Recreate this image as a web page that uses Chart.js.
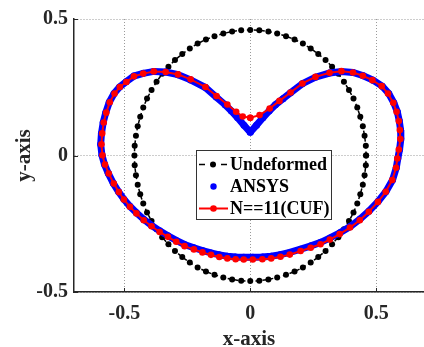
<!DOCTYPE html>
<html>
<head>
<meta charset="utf-8">
<script src="https://cdn.jsdelivr.net/npm/chart.js@4"></script>
<style>
  html, body { margin: 0; padding: 0; background: #fff; }
  canvas { display: block; }
</style>
</head>
<body>
<canvas id="shapeChart" width="424" height="347"></canvas>
<script>
// Undeformed ring (nodes every 4.5 deg, r = 0.46)
const circleX = [0.460, 0.459, 0.454, 0.447, 0.437, 0.425, 0.410, 0.392, 0.372, 0.350, 0.325, 0.299, 0.270, 0.240, 0.209, 0.176, 0.142, 0.107, 0.072, 0.036, 0.000,
  -0.036, -0.072, -0.107, -0.142, -0.176, -0.209, -0.240, -0.270, -0.299, -0.325, -0.350, -0.372, -0.392, -0.410, -0.425, -0.437, -0.447, -0.454, -0.459, -0.460,
  -0.459, -0.454, -0.447, -0.437, -0.425, -0.410, -0.392, -0.372, -0.350, -0.325, -0.299, -0.270, -0.240, -0.209, -0.176, -0.142, -0.107, -0.072, -0.036, 0.000,
  0.036, 0.072, 0.107, 0.142, 0.176, 0.209, 0.240, 0.270, 0.299, 0.325, 0.350, 0.372, 0.392, 0.410, 0.425, 0.437, 0.447, 0.454, 0.459, 0.460];
const circleY = [0.000, 0.036, 0.072, 0.107, 0.142, 0.176, 0.209, 0.240, 0.270, 0.299, 0.325, 0.350, 0.372, 0.392, 0.410, 0.425, 0.437, 0.447, 0.454, 0.459, 0.460,
  0.459, 0.454, 0.447, 0.437, 0.425, 0.410, 0.392, 0.372, 0.350, 0.325, 0.299, 0.270, 0.240, 0.209, 0.176, 0.142, 0.107, 0.072, 0.036, 0.000,
  -0.036, -0.072, -0.107, -0.142, -0.176, -0.209, -0.240, -0.270, -0.299, -0.325, -0.350, -0.372, -0.392, -0.410, -0.425, -0.437, -0.447, -0.454, -0.459, -0.460,
  -0.459, -0.454, -0.447, -0.437, -0.425, -0.410, -0.392, -0.372, -0.350, -0.325, -0.299, -0.270, -0.240, -0.209, -0.176, -0.142, -0.107, -0.072, -0.036, 0.000];

// ANSYS deformed shape
const ansysX = [0.000, 0.025, 0.050, 0.075, 0.100, 0.130, 0.160, 0.207, 0.259, 0.315, 0.362, 0.408, 0.449, 0.487, 0.524, 0.550, 0.570, 0.584, 0.592, 0.597,
  0.598, 0.593, 0.586, 0.580, 0.565, 0.539, 0.508, 0.472, 0.436, 0.397, 0.356, 0.317, 0.280, 0.241, 0.200, 0.157, 0.120, 0.083, 0.048, 0.010,
  -0.026, -0.058, -0.091, -0.123, -0.156, -0.190, -0.224, -0.261, -0.294, -0.327, -0.360, -0.392, -0.423, -0.452, -0.478, -0.502, -0.523, -0.544, -0.564, -0.579,
  -0.589, -0.594, -0.591, -0.584, -0.574, -0.560, -0.541, -0.519, -0.493, -0.462, -0.425, -0.383, -0.336, -0.287, -0.237, -0.178, -0.135, -0.100, -0.075, -0.050, -0.025, 0.000];
const ansysY = [0.085, 0.111, 0.138, 0.163, 0.186, 0.208, 0.230, 0.263, 0.287, 0.302, 0.308, 0.304, 0.292, 0.276, 0.254, 0.227, 0.193, 0.160, 0.126, 0.093,
  0.060, 0.022, -0.011, -0.045, -0.090, -0.132, -0.168, -0.203, -0.233, -0.260, -0.283, -0.302, -0.318, -0.331, -0.343, -0.355, -0.363, -0.369, -0.372, -0.373,
  -0.373, -0.372, -0.369, -0.364, -0.357, -0.348, -0.338, -0.326, -0.311, -0.294, -0.276, -0.256, -0.234, -0.210, -0.186, -0.160, -0.133, -0.102, -0.065, -0.032,
  0.001, 0.041, 0.081, 0.121, 0.157, 0.195, 0.227, 0.251, 0.270, 0.291, 0.301, 0.308, 0.306, 0.296, 0.277, 0.249, 0.214, 0.186, 0.163, 0.138, 0.111, 0.085];

// CUF (N=11) deformed shape
const cufX = [0.000, 0.037, 0.077, 0.116, 0.160, 0.207, 0.259, 0.315, 0.362, 0.408, 0.447, 0.485, 0.522, 0.547, 0.568, 0.581, 0.590, 0.594, 0.596, 0.590,
  0.584, 0.579, 0.564, 0.538, 0.507, 0.471, 0.435, 0.396, 0.355, 0.316, 0.279, 0.240, 0.200, 0.157, 0.120, 0.083, 0.048, 0.010,
  -0.026, -0.058, -0.091, -0.123, -0.156, -0.190, -0.224, -0.261, -0.294, -0.327, -0.360, -0.392, -0.423, -0.452, -0.478, -0.502, -0.522, -0.542, -0.562, -0.577,
  -0.587, -0.591, -0.588, -0.582, -0.572, -0.558, -0.539, -0.518, -0.492, -0.462, -0.425, -0.383, -0.336, -0.287, -0.237, -0.178, -0.134, -0.091, -0.056, -0.030, 0.000];
const cufY = [0.138, 0.148, 0.172, 0.200, 0.231, 0.264, 0.288, 0.303, 0.309, 0.304, 0.292, 0.276, 0.254, 0.227, 0.193, 0.160, 0.126, 0.093, 0.060, 0.022,
  -0.011, -0.045, -0.090, -0.133, -0.170, -0.206, -0.237, -0.264, -0.288, -0.308, -0.325, -0.338, -0.350, -0.363, -0.371, -0.377, -0.380, -0.381,
  -0.381, -0.380, -0.377, -0.372, -0.364, -0.355, -0.344, -0.332, -0.316, -0.298, -0.280, -0.259, -0.237, -0.212, -0.188, -0.161, -0.134, -0.103, -0.066, -0.033,
  0.001, 0.041, 0.081, 0.121, 0.157, 0.195, 0.227, 0.251, 0.269, 0.290, 0.300, 0.308, 0.306, 0.297, 0.279, 0.251, 0.218, 0.187, 0.160, 0.143, 0.138];

const xTicks = [-0.5, 0, 0.5];
const yTicks = [-0.5, 0, 0.5];
const xTickLabels = ['-0.5', '0', '0.5'];
const yTickLabels = ['-0.5', '0', '0.5'];
const seriesNames = ['Undeformed', 'ANSYS', 'N==11(CUF)'];

const SERIF = '"Liberation Serif", "Times New Roman", serif';
const TEXT = '#262626';
const tickFont = { family: SERIF, size: 20, weight: 'bold' };
const titleFont = { family: SERIF, size: 21, weight: 'bold' };

const toPoints = (xs, ys) => xs.map((x, i) => ({ x: x, y: ys[i] }));

// small inward tick marks like matlab
const innerTicks = {
    id: 'innerTicks',
    afterDatasetsDraw(chart) {
        const { ctx, chartArea, scales } = chart;
        ctx.save();
        ctx.strokeStyle = TEXT;
        ctx.lineWidth = 1;
        ctx.beginPath();
        xTicks.forEach(v => {
            const px = Math.round(scales.x.getPixelForValue(v)) + 0.5;
            ctx.moveTo(px, chartArea.bottom);
            ctx.lineTo(px, chartArea.bottom - 4);
        });
        yTicks.forEach(v => {
            const py = Math.round(scales.y.getPixelForValue(v)) + 0.5;
            ctx.moveTo(chartArea.left, py);
            ctx.lineTo(chartArea.left + 4, py);
        });
        ctx.stroke();
        ctx.restore();
    }
};

// legend box drawn by hand (matlab style samples)
const legendBox = {
    id: 'legendBox',
    afterDraw(chart) {
        const ctx = chart.ctx;
        const x0 = 196, y0 = 150, w = 135, h = 69;
        const rows = [164.5, 186.5, 208.5];
        const dot = (x, y, r, c) => {
            ctx.fillStyle = c;
            ctx.beginPath();
            ctx.arc(x, y, r, 0, Math.PI * 2);
            ctx.fill();
        };
        ctx.save();
        ctx.fillStyle = '#fff';
        ctx.fillRect(x0, y0, w, h);
        ctx.strokeStyle = '#333';
        ctx.lineWidth = 1;
        ctx.strokeRect(x0 + 0.5, y0 + 0.5, w, h);

        // Undeformed
        ctx.strokeStyle = '#000';
        ctx.lineWidth = 1.5;
        ctx.beginPath();
        ctx.moveTo(199, rows[0]); ctx.lineTo(205, rows[0]);
        ctx.moveTo(221, rows[0]); ctx.lineTo(227, rows[0]);
        ctx.stroke();
        dot(213, rows[0], 3, '#000');
        // ANSYS
        dot(213.5, rows[1], 3.2, '#0000ff');
        // CUF
        ctx.strokeStyle = '#ff0000';
        ctx.lineWidth = 2;
        ctx.beginPath();
        ctx.moveTo(199, rows[2]); ctx.lineTo(228, rows[2]);
        ctx.stroke();
        dot(213.5, rows[2], 3.3, '#ff0000');

        ctx.fillStyle = '#000';
        ctx.font = 'bold 18px ' + SERIF;
        ctx.textBaseline = 'middle';
        ctx.textAlign = 'left';
        seriesNames.forEach((name, i) => ctx.fillText(name, 230, rows[i] + 1));
        ctx.restore();
    }
};

const ctx = document.getElementById('shapeChart').getContext('2d');
const chart = new Chart(ctx, {
    type: 'scatter',
    data: {
        datasets: [
            {
                label: seriesNames[2],
                data: toPoints(cufX, cufY),
                showLine: true,
                borderColor: '#ff0000',
                backgroundColor: '#ff0000',
                borderWidth: 2,
                pointRadius: 3.3,
                pointBorderWidth: 0,
                order: 0
            },
            {
                label: seriesNames[1],
                data: toPoints(ansysX, ansysY),
                showLine: true,
                borderColor: '#0000ff',
                backgroundColor: '#0000ff',
                borderWidth: 7,
                pointRadius: 3.5,
                pointBorderWidth: 0,
                order: 1
            },
            {
                label: seriesNames[0],
                data: toPoints(circleX, circleY),
                showLine: true,
                borderColor: '#000',
                backgroundColor: '#000',
                borderWidth: 1.5,
                borderDash: [4, 3],
                pointRadius: 3,
                pointBorderWidth: 0,
                order: 2
            }
        ]
    },
    options: {
        responsive: false,
        animation: false,
        layout: { autoPadding: false, padding: { top: 19, right: 0, left: 0, bottom: 0 } },
        plugins: {
            legend: { display: false },
            tooltip: { enabled: false }
        },
        scales: {
            x: {
                type: 'linear',
                position: 'bottom',
                min: -0.7,
                max: 0.69,
                afterBuildTicks: s => { s.ticks = xTicks.map(v => ({ value: v })); },
                afterFit: s => { s.height = 55; },
                ticks: {
                    callback: (v, i) => xTickLabels[i],
                    color: TEXT,
                    font: tickFont,
                    padding: 10,
                    maxRotation: 0
                },
                grid: { color: '#9a9a9a', lineWidth: 1, drawTicks: false },
                border: { display: true, color: TEXT, width: 1.5, dash: [1, 2] },
                title: { display: true, text: 'x-axis', color: TEXT, font: titleFont, padding: { top: 0, bottom: -5 } }
            },
            y: {
                type: 'linear',
                min: -0.5,
                max: 0.5,
                afterBuildTicks: s => { s.ticks = yTicks.map(v => ({ value: v })); },
                afterFit: s => { s.width = 74; },
                ticks: {
                    callback: (v, i) => yTickLabels[i],
                    color: TEXT,
                    font: tickFont,
                    padding: 6
                },
                grid: { color: '#9a9a9a', lineWidth: 1, drawTicks: false },
                border: { display: true, color: TEXT, width: 1.5, dash: [1, 2] },
                title: { display: true, text: 'y-axis', color: TEXT, font: titleFont, padding: { top: 12, bottom: 0 } }
            }
        }
    },
    plugins: [innerTicks, legendBox]
});
</script>
</body>
</html>
